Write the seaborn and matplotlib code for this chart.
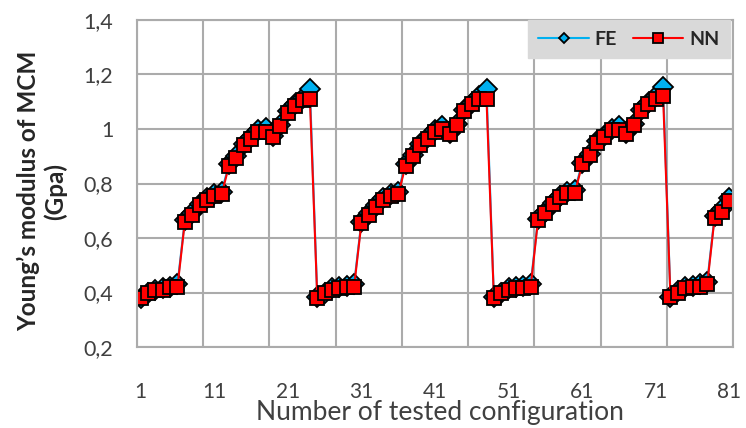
import numpy as np
import matplotlib
matplotlib.use("Agg")
import matplotlib.pyplot as plt
import pandas as pd
import seaborn as sns
from matplotlib.ticker import FuncFormatter, MultipleLocator

sns.set_style("white")
plt.rcParams['font.family'] = ['Lato', 'DejaVu Sans']

FE_COLOR = "#00B0F0"
NN_COLOR = "#FF0000"
GRID = "#ABABAB"
TXT = "#404040"

config = list(range(1, 82))
tick_labels = [1, 11, 21, 31, 41, 51, 61, 71, 81]

nn = [0.38, 0.40, 0.41, 0.41, 0.42, 0.42,
      0.66, 0.685, 0.72, 0.74, 0.755, 0.76,
      0.865, 0.895, 0.94, 0.965, 0.99, 0.99,
      0.97, 1.01, 1.06, 1.085, 1.105, 1.11,
      0.38, 0.40, 0.41, 0.415, 0.42, 0.42,
      0.655, 0.685, 0.715, 0.74, 0.755, 0.76,
      0.865, 0.90, 0.94, 0.965, 0.99, 1.0,
      0.98, 1.015, 1.065, 1.09, 1.11, 1.11,
      0.38, 0.40, 0.41, 0.415, 0.415, 0.42,
      0.665, 0.69, 0.725, 0.75, 0.765, 0.765,
      0.87, 0.905, 0.95, 0.97, 0.995, 0.995,
      0.98, 1.015, 1.065, 1.09, 1.11, 1.12,
      0.385, 0.40, 0.415, 0.42, 0.42, 0.43,
      0.675, 0.695, 0.735]

fe = [0.38, 0.40, 0.41, 0.415, 0.42, 0.43,
      0.665, 0.69, 0.725, 0.745, 0.76, 0.77,
      0.87, 0.90, 0.945, 0.97, 0.995, 1.005,
      0.975, 1.015, 1.065, 1.09, 1.115, 1.145,
      0.385, 0.40, 0.415, 0.42, 0.425, 0.43,
      0.66, 0.69, 0.72, 0.745, 0.76, 0.77,
      0.87, 0.905, 0.945, 0.97, 0.995, 1.01,
      0.985, 1.02, 1.07, 1.095, 1.12, 1.145,
      0.385, 0.40, 0.415, 0.42, 0.425, 0.43,
      0.67, 0.695, 0.73, 0.755, 0.77, 0.775,
      0.875, 0.91, 0.955, 0.975, 1.0, 1.01,
      0.985, 1.02, 1.07, 1.095, 1.12, 1.155,
      0.385, 0.405, 0.42, 0.425, 0.43, 0.44,
      0.68, 0.705, 0.745]

df = pd.DataFrame({"config": config, "FE": fe, "NN": nn})

fig, ax = plt.subplots(1, 1, figsize=(7.46, 4.28), dpi=100)
fig.subplots_adjust(left=137 / 746, right=733 / 746, top=1 - 20 / 428, bottom=1 - 347 / 428)

sns.lineplot(data=df, x="config", y="FE", ax=ax, label="FE", color=FE_COLOR,
             marker="D", markersize=10, markeredgecolor="black", markeredgewidth=1.3,
             linewidth=1.5)
sns.lineplot(data=df, x="config", y="NN", ax=ax, label="NN", color=NN_COLOR,
             marker="s", markersize=9.5, markeredgecolor="black", markeredgewidth=1.3,
             linewidth=1.5)

ax.set_xlim(0.5, 81.5)
ax.set_ylim(0.2, 1.4)
ax.set_xticks(tick_labels)
ax.set_xticks(np.arange(0.5, 82, 9), minor=True)
ax.yaxis.set_major_locator(MultipleLocator(0.2))
ax.yaxis.set_major_formatter(FuncFormatter(lambda v, p: ("%g" % round(v, 1)).replace(".", ",")))

ax.grid(False)
ax.grid(True, which="minor", axis="x", color=GRID, linewidth=1.5)
ax.grid(True, which="major", axis="y", color=GRID, linewidth=1.5)
ax.set_axisbelow(True)
for s in ax.spines.values():
    s.set_color(GRID)
    s.set_linewidth(1.5)

ax.tick_params(axis="x", which="both", length=0, pad=25, labelsize=15, labelcolor=TXT)
ax.tick_params(axis="y", which="both", length=0, pad=17, labelsize=15.5, labelcolor=TXT)

ax.set_xlabel("Number of tested configuration", fontsize=19, color=TXT)
ax.xaxis.set_label_coords(0.509, -0.163)
ax.set_ylabel("")
fig.text(42 / 746, 1 - 191 / 428, "Young\u2019s modulus of MCM\n(Gpa)", rotation=90,
         ha="center", va="center", fontsize=17.5, fontweight="bold", color="#262626",
         multialignment="center", linespacing=1.15)

leg = ax.legend(loc="upper right", bbox_to_anchor=(0.995, 1.0), borderaxespad=0,
                ncol=2, frameon=True, fancybox=False, framealpha=1,
                facecolor="#D9D9D9", edgecolor="#D9D9D9",
                prop={"size": 14, "weight": "bold"}, handlelength=2.6,
                handletextpad=0.3, columnspacing=0.8,
                borderpad=0.55)
for t in leg.get_texts():
    t.set_color("#262626")
leg.legend_handles[0].set_markersize(5.5)
leg.legend_handles[1].set_markersize(7)

fig.savefig("out.png", dpi=100)
